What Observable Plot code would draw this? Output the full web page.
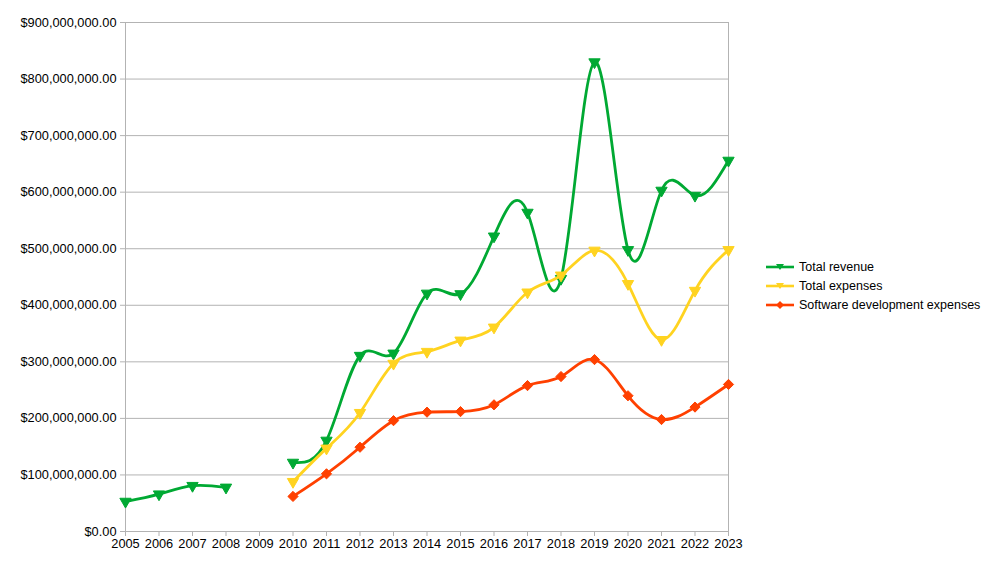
<!DOCTYPE html>
<html><head>
<meta charset="utf-8">
<script src="https://cdn.jsdelivr.net/npm/d3@7"></script>
<script src="https://cdn.jsdelivr.net/npm/@observablehq/plot@0.6"></script>
<style>
body{margin:0;background:#fff;font-family:"Liberation Sans",Arial,sans-serif}
#wrap{position:relative;width:985px;height:563px}
#legend{position:absolute;left:766px;top:257px;font-size:12.5px;color:#000}
#legend .item{display:flex;align-items:center;height:19px}
#legend svg{margin-right:5px}
</style></head>
<body><div id="wrap"><div id="legend"></div></div>
<script>
const years = [2005,2006,2007,2008,2009,2010,2011,2012,2013,2014,2015,2016,2017,2018,2019,2020,2021,2022,2023];
const revenue  = [53,66,81,78,null,122,161,311,315,421,420,522,564,447,830,498,603,594,656];
const expenses = [null,null,null,null,null,88,147,210,297,318,338,361,423,453,497,438,339,426,498];
const software = [null,null,null,null,null,62,102,149,196,211,212,224,258,274,304,240,198,220,260];
const seriesNames = ["Total revenue","Total expenses","Software development expenses"];
const seriesColors = ["#00a933","#ffd320","#ff4000"];
const seriesSymbols = ["triangle","triangle","diamond2"];
const seriesRotate = [180,180,0];
const seriesValues = [revenue, expenses, software];
const yTicks = [0,100,200,300,400,500,600,700,800,900];

const data = [];
seriesNames.forEach((s,i)=>years.forEach((y,j)=>{
  const v = seriesValues[i][j];
  data.push({series:s, year:y, value: v==null?NaN:v*1e6});
}));

const marks = [
  Plot.gridY(yTicks.map(d=>d*1e6), {stroke:"#b3b3b3", strokeOpacity:1}),
  Plot.frame({stroke:"#b3b3b3"}),
  Plot.axisY(yTicks.map(d=>d*1e6), {tickSize:5, tickPadding:4, stroke:"#b3b3b3",
    tickFormat:d=>"$"+d3.format(",.2f")(d), fontSize:12.8, fill:"#000"}),
  Plot.axisX(years, {tickSize:5, tickPadding:2, stroke:"#b3b3b3", fontSize:12.8, fill:"#000", tickFormat:d=>String(d)})
];
seriesNames.forEach((s,i)=>{
  const d = data.filter(r=>r.series===s);
  marks.push(Plot.line(d, {x:"year", y:"value", stroke:seriesColors[i], strokeWidth:2.8, curve:"natural"}));
  marks.push(Plot.dot(d.filter(r=>!isNaN(r.value)), {x:"year", y:"value", fill:seriesColors[i], stroke:seriesColors[i], strokeWidth:1,
    symbol:seriesSymbols[i], rotate:seriesRotate[i], r: seriesSymbols[i]==="diamond2"?4.6:4.2}));
});

const chart = Plot.plot({
  width:985, height:563,
  marginLeft:125, marginRight:257, marginTop:22, marginBottom:32,
  style:{fontFamily:"'Liberation Sans', Arial, sans-serif", fontSize:"12.8px", color:"#000", background:"#fff"},
  x:{type:"linear", domain:[2005,2023], label:null},
  y:{domain:[0,900e6], label:null},
  marks
});
const wrap = document.getElementById("wrap");
wrap.insertBefore(chart, wrap.firstChild);

const legend = document.getElementById("legend");
seriesNames.forEach((s,i)=>{
  const item = document.createElement("div"); item.className="item";
  const sym = seriesSymbols[i]==="diamond2"
    ? `<path d="M14,4 L18,8 L14,12 L10,8Z" fill="${seriesColors[i]}"/>`
    : `<path d="M10,5 L18,5 L14,11Z" fill="${seriesColors[i]}"/>`;
  item.innerHTML = `<svg width="28" height="16"><line x1="0" x2="28" y1="8" y2="8" stroke="${seriesColors[i]}" stroke-width="2.6"/>${sym}</svg><span>${s}</span>`;
  legend.appendChild(item);
});
</script>
</body></html>
